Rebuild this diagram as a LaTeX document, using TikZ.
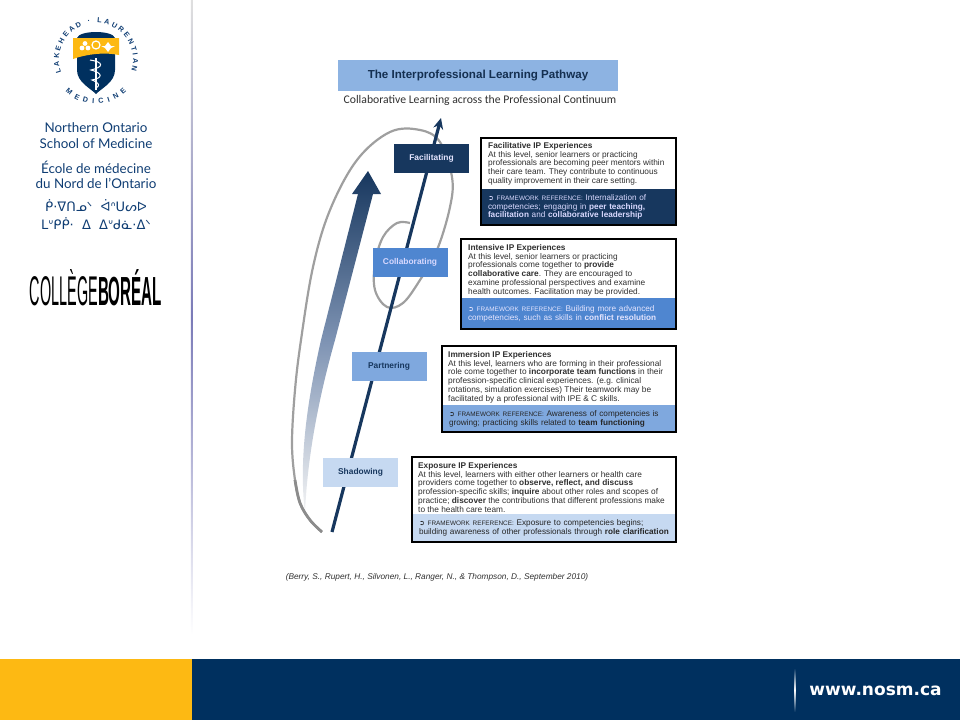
\documentclass[tikz,border=0pt]{standalone}
\usepackage{fontspec}
\setmainfont{Liberation Sans}
\newfontfamily\symf{DejaVu Sans}
\newfontfamily\sidef{Lato}
\newfontfamily\subf{Carlito}
\usetikzlibrary{arrows.meta,decorations.text}
\definecolor{navy}{HTML}{00305F}
\definecolor{deepb}{HTML}{17375E}
\definecolor{midb}{HTML}{4F86D0}
\definecolor{softb}{HTML}{7FA8DE}
\definecolor{paleb}{HTML}{C6D9F1}
\definecolor{bandt}{HTML}{8DB3E2}
\definecolor{sideb}{HTML}{0F3D73}
\definecolor{gold}{HTML}{FDB913}
\definecolor{inkg}{HTML}{303030}
\definecolor{shaftb}{HTML}{7F94B4}
\newcommand\fwref{{\symf\fontsize{7}{8}\selectfont ➲}\ {\fontsize{6.4}{8}\selectfont FRAMEWORK REFERENCE:}}
\begin{document}
\begin{tikzpicture}[x=1pt,y=-1pt,
  level/.style={font=\fontsize{8.4}{9}\selectfont\bfseries, minimum width=75pt, minimum height=29pt},
  panel/.style={fill=white, inner sep=0pt},
  edge/.style={draw=black, line width=1.5pt},
  band/.style={inner xsep=7pt, inner ysep=0pt, align=left, font=\fontsize{8.2}{8.8}\selectfont},
  lab/.style={anchor=north west, inner sep=0pt, align=left, text=inkg, font=\fontsize{8.3}{8.8}\selectfont},
  side/.style={font=\sidef\fontsize{13.4}{15.5}\selectfont, text=sideb, align=center, inner sep=0pt},
  syl/.style={font=\symf\fontsize{13}{15}\selectfont, text=sideb, inner sep=0pt},
  seal/.style={decorate, decoration={text along path, text align=fit to path, text={|\bfseries\fontsize{7.2}{8}\selectfont\color{sideb}|#1}}}]
\useasboundingbox (0,0) rectangle (960,720);
% side panel and footer
\fill[gold] (0,659) rectangle (192,720);
\fill[navy] (192,659) rectangle (960,720);
\shade[top color=gray!25, bottom color=white, middle color=gray!70!blue!80] (190.8,0) rectangle (192.8,635);
\shade[top color=navy, bottom color=navy, middle color=white] (794,668) rectangle (795.5,712);
\node[font=\symf\bfseries\fontsize{17}{18}\selectfont, text=white, inner sep=0pt] (site) at (875.5,691) {www.nosm.ca};
% seal
\coordinate (sealc) at (96,60);
\path[seal={LAKEHEAD · LAURENTIAN}] (sealc) ++(200:37pt) arc[start angle=200, end angle=-17, radius=37pt];
\path[seal={MEDICINE}] (sealc) ++(226:44pt) arc[start angle=226, end angle=314, radius=44pt];
\fill[navy] (77,38) .. controls (79,30) and (113,30) .. (115,38) -- (115,70) .. controls (115,82) and (102,88) .. (96,94) .. controls (90,88) and (77,82) .. (77,70) -- cycle;
\fill[gold] (73,38) -- (119,38) -- (119,55) .. controls (105,52) and (87,54) .. (73,59) -- cycle;
\draw[white, line width=1.6pt] (96,58) -- (96,90);
\draw[white, line width=1pt] (90,60) .. controls (104,62) and (104,67) .. (91,70) .. controls (103,73) and (103,78) .. (92,80) .. controls (100,83) and (100,86) .. (96,88);
\draw[white, line width=1.2pt] (96,45) circle[radius=4pt];
\fill[white] (85,43.5) circle[radius=2.4pt] (82,48) circle[radius=2.4pt] (88,48) circle[radius=2.4pt];
\fill[white] (108,42) -- (111,46) -- (115,46) -- (111,48) -- (108,52) -- (105,48) -- (101,46) -- (105,46) -- cycle;
\node[side] (nosmen) at (96,135.5) {Northern Ontario\\School of Medicine};
\node[side] (nosmfr) at (96,175) {École de médecine\\du Nord de l’Ontario};
\node[syl] (sylone) at (96,206) {ᑮ·ᐁᑎᓄᐠ\ \ ᐋᐢᑌᔕᐅ};
\node[syl] (syltwo) at (96,224) {ᒪᐡᑭᑮ·\ \ ᐃ\ \ ᐃᐡᑯᓈ·ᐃᐠ};
\node[inner sep=0pt] (boreal) at (96,288) {\resizebox{68pt}{36pt}{COLLÈGE}\resizebox{64pt}{36pt}{\textbf{BORÉAL}}};
% heading
\node[fill=bandt, minimum width=280pt, minimum height=31pt, inner sep=0pt, font=\bfseries\fontsize{11.6}{12}\selectfont, text=deepb!85!black] (title) at (478,75.5) {\raisebox{-3.5pt}{The Interprofessional Learning Pathway}};
\node[font=\subf\fontsize{11.7}{12}\selectfont, text=inkg, inner sep=0pt] (subtitle) at (480,100.5) {Collaborative Learning across the Professional Continuum};
% arrows behind the levels
\shade[top color=deepb, bottom color=gray!8, middle color=shaftb] (305,514) .. controls (300,470) and (303,420) .. (321,340) -- (358,194) -- (352,194) -- (368,171) -- (381,194) -- (373,194) -- (335,340) .. controls (318,400) and (307,460) .. (305,514) -- cycle;
\draw[gray!75, line width=2.2pt, line join=round] plot[smooth, tension=0.6] coordinates {(322,532) (310,520) (300,503) (295,480) (292,443) (295,390) (301,340) (313,267) (330,210) (357,160) (390,132) (420,130) (440,142) (452,177) (450,207) (437,250) (420,280) (403,303) (387,307) (375,290) (375,263) (383,237) (397,223) (410,223)};
\draw[gray!90, line width=2.8pt] plot[smooth, tension=0.6] coordinates {(322,532) (310,520) (300,503) (295,480)};
\coordinate (pathstart) at (332,532);
\coordinate (pathtip) at (441,118);
\draw[deepb, line width=3.2pt, -{Stealth[length=11pt,width=10pt]}] (pathstart) -- (pathtip);
% levels
\node[level, fill=deepb, text=white!90!blue] (facil) at (431.5,158.5) {Facilitating};
\node[level, fill=midb, text=white!85!blue] (collab) at (410,262.5) {Collaborating};
\node[level, fill=softb, text=deepb] (partner) at (389,366.5) {Partnering};
\node[level, fill=paleb, text=deepb] (shadow) at (360.5,472.5) {Shadowing};
% facilitative
\node[panel, minimum width=195pt, minimum height=87pt] (facbox) at (578.5,181.5) {};
\node[band, fill=deepb, text=white!85!blue, text width=181pt, minimum height=36pt, anchor=south] (facband) at (facbox.south) {\fwref\ Internalization of\\competencies; engaging in \textbf{peer teaching,}\\\textbf{facilitation} and \textbf{collaborative leadership}};
\node[lab] (factext) at (488,142) {\textbf{Facilitative IP Experiences}\\At this level, senior learners or practicing\\professionals are becoming peer mentors within\\their care team. They contribute to continuous\\quality improvement in their care setting.};
\draw[edge] (facbox.north west) rectangle (facbox.south east);
% intensive
\node[panel, minimum width=215pt, minimum height=90pt] (intbox) at (568.5,284) {};
\node[band, fill=midb, text=white!90!blue, text width=201pt, minimum height=31pt, anchor=south] (intband) at (intbox.south) {\fwref\ Building more advanced\\competencies, such as skills in \textbf{conflict resolution}};
\node[lab] (inttext) at (468,244) {\textbf{Intensive IP Experiences}\\At this level, senior learners or practicing\\professionals come together to \textbf{provide}\\\textbf{collaborative care}. They are encouraged to\\examine professional perspectives and examine\\health outcomes. Facilitation may be provided.};
\draw[edge] (intbox.north west) rectangle (intbox.south east);
% immersion
\node[panel, minimum width=234pt, minimum height=86pt] (immbox) at (559,389) {};
\node[band, fill=softb, text=black!85, text width=220pt, minimum height=27pt, anchor=south] (immband) at (immbox.south) {\fwref\ Awareness of competencies is\\growing; practicing skills related to \textbf{team functioning}};
\node[lab] (immtext) at (448,351) {\textbf{Immersion IP Experiences}\\At this level, learners who are forming in their professional\\role come together to \textbf{incorporate team functions} in their\\profession-specific clinical experiences. (e.g. clinical\\rotations, simulation exercises) Their teamwork may be\\facilitated by a professional with IPE \& C skills.};
\draw[edge] (immbox.north west) rectangle (immbox.south east);
% exposure
\node[panel, minimum width=264pt, minimum height=85pt] (expbox) at (544,499.5) {};
\node[band, fill=paleb, text=black!85, text width=250pt, minimum height=28pt, anchor=south] (expband) at (expbox.south) {\fwref\ Exposure to competencies begins;\\building awareness of other professionals through \textbf{role clarification}};
\node[lab] (exptext) at (418,462) {\textbf{Exposure IP Experiences}\\At this level, learners with either other learners or health care\\providers come together to \textbf{observe, reflect, and discuss}\\profession-specific skills; \textbf{inquire} about other roles and scopes of\\practice; \textbf{discover} the contributions that different professions make\\to the health care team.};
\draw[edge] (expbox.north west) rectangle (expbox.south east);
\node[font=\itshape\fontsize{8.3}{10}\selectfont, text=inkg, inner sep=0pt] (cite) at (437,577) {(Berry, S., Rupert, H., Silvonen, L., Ranger, N., \& Thompson, D., September 2010)};
\end{tikzpicture}
\end{document}
